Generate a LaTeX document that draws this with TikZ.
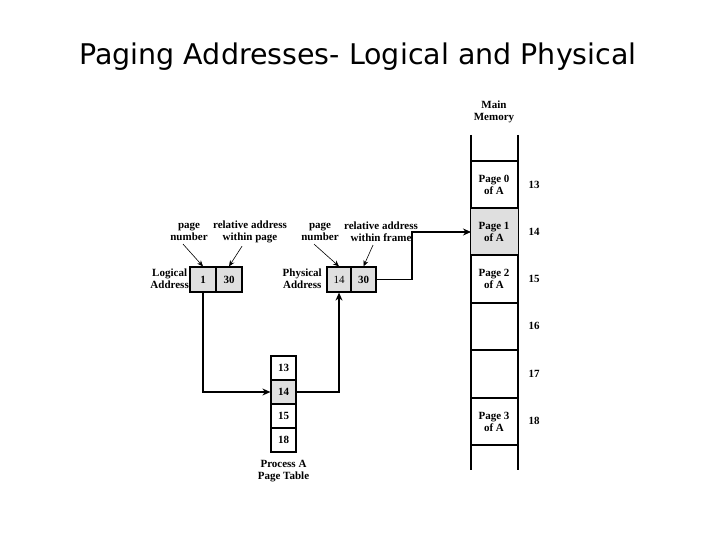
\documentclass[tikz,border=0pt]{standalone}
\usepackage{fontspec}
\setmainfont{Liberation Serif}
\newfontfamily\titlefont{DejaVu Sans}
\usetikzlibrary{arrows.meta}
\begin{document}
\begin{tikzpicture}[x=1pt,y=-1pt,
  lbl/.style={font=\fontsize{11}{12}\selectfont\bfseries,align=center,inner sep=0pt},
  cell/.style={draw,line width=1.2pt,inner sep=0pt,font=\fontsize{11}{12}\selectfont\bfseries},
  conn/.style={line width=1.1pt,-{Stealth[length=8pt,width=7pt]}},
  small/.style={line width=0.6pt,-{Stealth[length=6pt,width=5pt]}}]
\useasboundingbox (0,0) rectangle (720,540);
\node[font=\titlefont\fontsize{28.5}{32}\selectfont] (title) at (358,57) {Paging Addresses- Logical and Physical};
% main memory
\node[lbl] (mm) at (494,112) {Main\\Memory};
\draw[line width=1.2pt] (471,135) -- (471,470) (518,135) -- (518,470);
\fill[gray!25] (471,208) rectangle (518,255);
\foreach \y in {161,208,255,303,350,398,445} \draw[line width=1.2pt] (471,\y) -- (518,\y);
\node[lbl] (p0) at (494,185) {Page 0\\of A};
\node[lbl] (p1) at (494,232) {Page 1\\of A};
\node[lbl] (p2) at (494,279) {Page 2\\of A};
\node[lbl] (p3) at (494,422) {Page 3\\of A};
\coordinate (m1) at (471,232);
\foreach \n/\y in {13/185,14/232,15/279,16/326,17/374,18/421} \node[lbl] at (534,\y) {\n};
% logical address
\node[cell,fill=gray!25,minimum width=26pt,minimum height=25pt] (l1) at (203,279.5) {1};
\node[cell,fill=gray!25,minimum width=26pt,minimum height=25pt] (l2) at (229,279.5) {30};
\node[lbl,anchor=east] (la) at (189,279) {Logical\\Address};
\node[cell,fill=gray!25,minimum width=24pt,minimum height=25pt] (f1) at (339,279.5) {\mdseries 14};
\node[cell,fill=gray!25,minimum width=25pt,minimum height=25pt] (f2) at (363.5,279.5) {30};
\node[lbl,anchor=east] (pa) at (322,279) {Physical\\Address};
\node[lbl] (pn1) at (189,232) {page\\number};
\node[lbl] (ra1) at (250,232) {relative address\\within page};
\node[lbl] (pn2) at (320,232) {page\\number};
\node[lbl] (ra2) at (381,232) {relative address\\within frame};
\draw[small] (pn1.south) ++(-6,3) -- (l1.north);
\draw[small] (ra1.south) ++(-8,3) -- (l2.north);
\draw[small] (pn2.south) ++(-6,3) -- (f1.north);
\draw[small] (ra2.south) ++(-8,3) -- (f2.north);
% page table
\node[cell,minimum width=25pt,minimum height=24pt] (t1) at (283.5,368) {13};
\node[cell,fill=gray!25,minimum width=25pt,minimum height=24pt] (t2) at (283.5,392) {14};
\node[cell,minimum width=25pt,minimum height=24pt] (t3) at (283.5,416) {15};
\node[cell,minimum width=25pt,minimum height=24pt] (t4) at (283.5,440) {18};
\node[lbl] (pt) at (283.5,471) {Process A\\Page Table};
% connectors
\draw[conn] (l1.south) |- (t2.west);
\draw[conn] (t2.east) -| (f1.south);
\draw[conn] (f2.east) -- (412,279.5) |- (m1);
\end{tikzpicture}
\end{document}
